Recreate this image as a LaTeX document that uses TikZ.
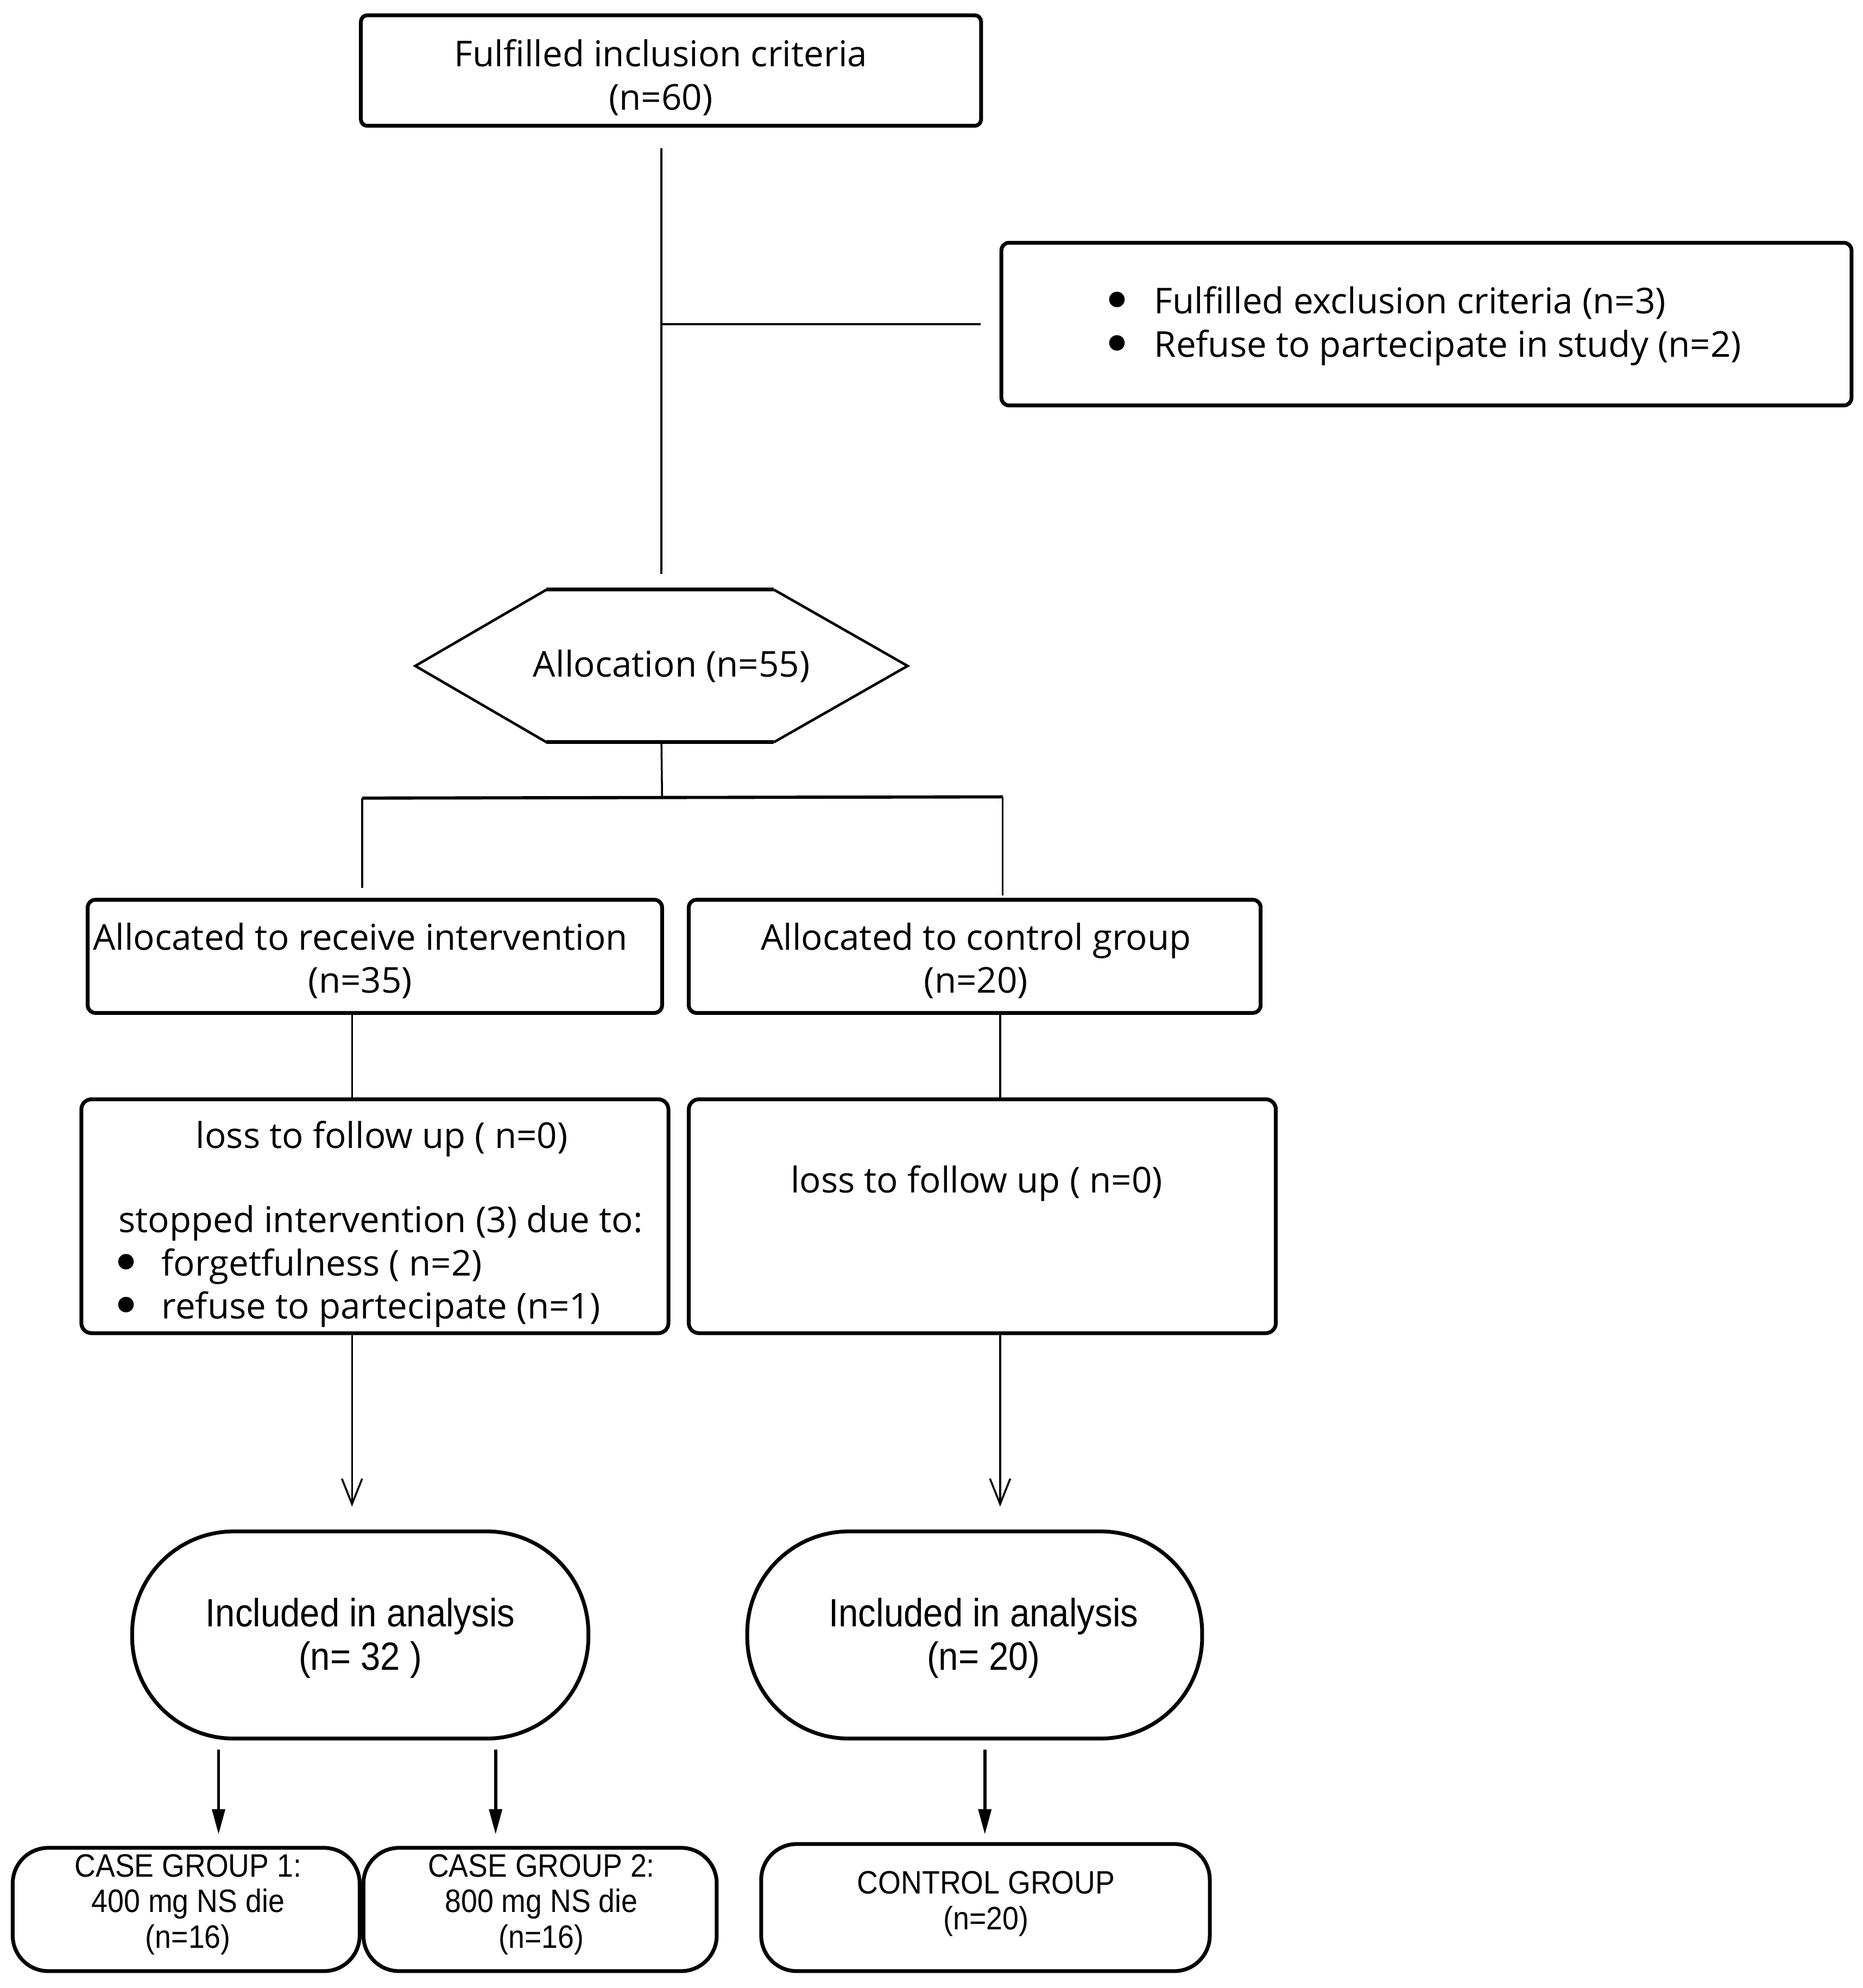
\documentclass[tikz,border=0pt]{standalone}
\usepackage{graphicx}
\usepackage{fontspec}
\setmainfont{Open Sans}
\newfontfamily\arialf[FakeStretch=0.9]{Liberation Sans}
\newfontfamily\djv{DejaVu Sans}
\newcommand{\mybul}{\hspace{-6.4pt}\raisebox{-4.7pt}{\scalebox{1.5}{\djv •}}}
\usetikzlibrary{arrows.meta}
\begin{document}
\begin{tikzpicture}[x=1pt,y=-1pt,
  box/.style={draw, line width=3pt, rounded corners=5pt, inner sep=0pt},
  roundbox/.style={draw, line width=3pt, rounded corners=28pt, inner sep=0pt},
  ovalbox/.style={draw, line width=3pt, rounded corners=80pt, inner sep=0pt},
  txt/.style={inner sep=0pt, align=center, font=\fontsize{28}{34}\selectfont},
  ltxt/.style={inner sep=0pt, align=left, font=\fontsize{28}{34}\selectfont},
  atxt/.style={inner sep=0pt, align=center, font=\arialf\fontsize{31}{34}\selectfont},
  stxt/.style={inner sep=0pt, align=center, font=\arialf\fontsize{25.5}{28}\selectfont},
  conn/.style={line width=1.5pt},
  thickconn/.style={line width=2.5pt},
  openarrow/.style={line width=1.5pt, -{Straight Barb[length=20pt,width=16pt,line width=1.5pt]}},
  solidarrow/.style={line width=2.5pt, -{Triangle[length=20pt,width=10pt]}}
]
\useasboundingbox (0,0) rectangle (1466,1564.3);

% boxes
\node[box, minimum width=488pt, minimum height=87pt] (top) at (528,55.5) {};
\node[txt] (toptxt) at (520,61) {Fulfilled inclusion criteria\\(n=60)};

\node[box, rounded corners=6pt, minimum width=669pt, minimum height=128pt] (excl) at (1122.5,255) {};
\node[ltxt, anchor=west] (excltxt) at (873,256.5) {\makebox[35pt][l]{\mybul}Fulfilled exclusion criteria (n=3)\\\makebox[35pt][l]{\mybul}Refuse to partecipate in study (n=2)};

% hexagon
\node[inner sep=0pt, minimum width=387pt, minimum height=120pt] (alloc) at (520.5,524) {};
\draw[line width=3pt] (430,464) -- (609,464) (430,584) -- (609,584);
\draw[line width=2pt] (430,464) -- (alloc.west) -- (430,584) (609,464) -- (alloc.east) -- (609,584);
\node[txt] (alloctxt) at (528.5,524) {Allocation (n=55)};

\node[box, rounded corners=6pt, minimum width=452pt, minimum height=89pt] (box1) at (295,752.5) {};
\node[txt] (box1txt) at (283.5,756) {Allocated to receive intervention\\(n=35)};
\node[box, rounded corners=6pt, minimum width=450pt, minimum height=89pt] (box2) at (767,752.5) {};
\node[txt] (box2txt) at (768,756) {Allocated to control group\\(n=20)};

\node[box, rounded corners=8pt, minimum width=462pt, minimum height=184pt] (box3) at (295,957) {};
\node[txt] (box3a) at (300.5,896) {loss to follow up ( n=0)};
\node[ltxt, anchor=west] (box3b) at (93,996.5) {stopped intervention (3) due to:\\\makebox[34pt][l]{\mybul}forgetfulness ( n=2)\\\makebox[34pt][l]{\mybul}refuse to partecipate (n=1)};
\node[box, rounded corners=8pt, minimum width=462pt, minimum height=184pt] (box4) at (773,957) {};
\node[txt] (box4txt) at (768.5,931) {loss to follow up ( n=0)};

\node[ovalbox, minimum width=359pt, minimum height=163pt] (inc1) at (283.5,1286.5) {};
\node[atxt] (inc1txt) at (283.5,1289) {Included in analysis\\(n= 32 )};
\node[ovalbox, minimum width=358pt, minimum height=163pt] (inc2) at (767,1286.5) {};
\node[atxt] (inc2txt) at (774,1289) {Included in analysis\\(n= 20)};

\node[roundbox, minimum width=273pt, minimum height=97pt] (cg1) at (146.5,1502.5) {};
\node[stxt] (cg1txt) at (148,1498.5) {CASE GROUP 1:\\400 mg NS die\\(n=16)};
\node[roundbox, minimum width=278pt, minimum height=97pt] (cg2) at (425,1502.5) {};
\node[stxt] (cg2txt) at (426,1498.5) {CASE GROUP 2:\\800 mg NS die\\(n=16)};
\node[roundbox, minimum width=353pt, minimum height=100pt] (ctrl) at (775.5,1501) {};
\node[stxt] (ctrltxt) at (776,1498) {CONTROL GROUP\\(n=20)};

% connectors
\draw[conn, shorten <=16pt, shorten >=12pt] (top.south -| alloc.north) -- (alloc.north);
\draw[conn, shorten >=15pt] (alloc.north |- excl.west) -- (excl.west);

\coordinate (split) at (521,628);
\coordinate (sL) at (285,628);
\coordinate (sR) at (789,627);
\draw[conn] (alloc.south) -- (split);
\draw[thickconn] (sL) -- (sR);
\draw[conn, shorten >=8pt] (sL) -- (sL |- box1.north);
\draw[conn, shorten >=2pt] (sR) -- (sR |- box2.north);

\draw[conn] ([xshift=-18pt]box1.south) -- ([xshift=-18pt]box1.south |- box3.north);
\draw[conn] ([xshift=20pt]box2.south) -- ([xshift=20pt]box2.south |- box4.north);

\draw[openarrow, shorten >=18pt] ([xshift=-18pt]box3.south) -- ([xshift=-18pt]box3.south |- inc1.north);
\draw[openarrow, shorten >=18pt] ([xshift=14pt]box4.south) -- ([xshift=14pt]box4.south |- inc2.north);

\draw[solidarrow, shorten <=7pt, shorten >=9pt] ([xshift=-111.5pt]inc1.south) -- ([xshift=-111.5pt]inc1.south |- cg1.north);
\draw[solidarrow, shorten <=7pt, shorten >=9pt] ([xshift=106.5pt]inc1.south) -- ([xshift=106.5pt]inc1.south |- cg2.north);
\draw[solidarrow, shorten <=7pt, shorten >=6pt] ([xshift=8pt]inc2.south) -- ([xshift=8pt]inc2.south |- ctrl.north);
\end{tikzpicture}
\end{document}
